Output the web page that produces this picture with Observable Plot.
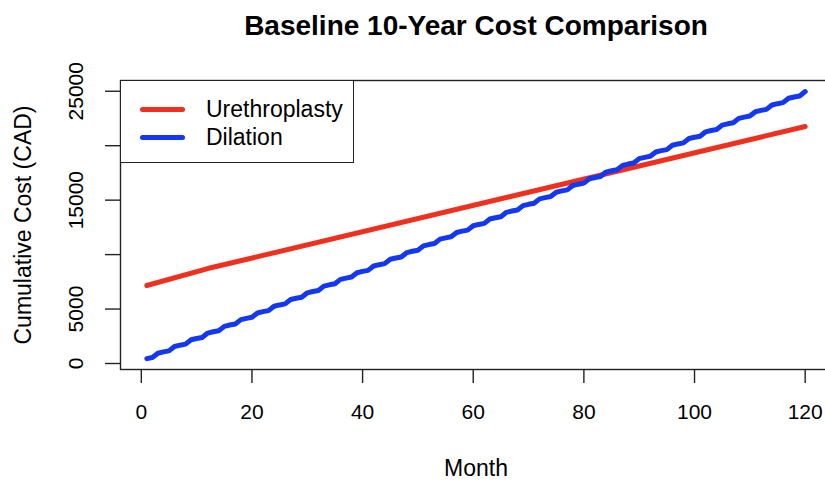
<!DOCTYPE html>
<html>
<head>
<meta charset="utf-8">
<script src="https://cdn.jsdelivr.net/npm/d3@7"></script>
<script src="https://cdn.jsdelivr.net/npm/@observablehq/plot@0.6"></script>
<style>
  html, body { margin: 0; padding: 0; background: #fff; }
  #wrap { position: relative; width: 825px; height: 482px; font-family: "Liberation Sans", Arial, sans-serif; }
  #legend { position: absolute; left: 120px; top: 80px; width: 234px; height: 83px; border: 1.4px solid #222; background: #fff; box-sizing: border-box; }
  .item { position: absolute; left: 0; height: 28px; width: 100%; }
  .swatch { position: absolute; left: 19px; width: 45px; height: 5px; border-radius: 3px; top: 11.5px; }
  .lab { position: absolute; left: 85px; top: 0; font-size: 23px; line-height: 28px; color: #000; }
</style>
</head>
<body>
<div id="wrap"></div>
<script>
const title = "Baseline 10-Year Cost Comparison";
const xTitle = "Month";
const yTitle = "Cumulative Cost (CAD)";
const seriesNames = ["Urethroplasty", "Dilation"];
const seriesColors = ["#f0301e", "#1438f2"];

const xTicks = [0, 20, 40, 60, 80, 100, 120];
const yTicks = [0, 5000, 10000, 15000, 20000, 25000];
const yTickLabels = [0, 5000, 15000, 25000];

const urethroMonths = [1, 12, 120];
const urethroCost = [7160, 8720, 21760];

const dilationMonths = d3.range(1, 121);
const dilationCost = [
  450, 546,
  946, 1066, 1162, 1562, 1682, 1778, 2178, 2298, 2394,
  2794, 2914, 3010, 3410, 3530, 3626, 4026, 4146, 4242,
  4642, 4762, 4858, 5258, 5378, 5474, 5874, 5994, 6090,
  6490, 6610, 6706, 7106, 7226, 7322, 7722, 7842, 7938,
  8338, 8458, 8554, 8954, 9074, 9170, 9570, 9690, 9786,
  10186, 10306, 10402, 10802, 10922, 11018, 11418, 11538, 11634,
  12034, 12154, 12250, 12650, 12770, 12866, 13266, 13386, 13482,
  13882, 14002, 14098, 14498, 14618, 14714, 15114, 15234, 15330,
  15730, 15850, 15946, 16346, 16466, 16562, 16962, 17082, 17178,
  17578, 17698, 17794, 18194, 18314, 18410, 18810, 18930, 19026,
  19426, 19546, 19642, 20042, 20162, 20258, 20658, 20778, 20874,
  21274, 21394, 21490, 21890, 22010, 22106, 22506, 22626, 22722,
  23122, 23242, 23338, 23738, 23858, 23954, 24354, 24474, 24570,
  24970
];

const urethroData = urethroMonths.map((m, i) => ({month: m, cost: urethroCost[i]}));
const dilationData = dilationMonths.map((m, i) => ({month: m, cost: dilationCost[i]}));

const font = "Liberation Sans, Arial, sans-serif";

const chart = Plot.plot({
  width: 825,
  height: 482,
  marginLeft: 120,
  marginRight: -6,
  marginTop: 80,
  marginBottom: 113,
  style: {fontFamily: font, fontSize: "21px", color: "#000", background: "#fff"},
  x: {domain: [-3.76, 124.76]},
  y: {domain: [-551, 25987]},
  marks: [
    Plot.frame({stroke: "#222", strokeWidth: 1.4}),
    Plot.axisX({ticks: xTicks, tickSize: 14, tickPadding: 21, fontSize: 21, stroke: "#222", strokeWidth: 1.4, label: null, tickFormat: d => String(d)}),
    Plot.axisY({ticks: yTicks, tickSize: 15, stroke: "#222", strokeWidth: 1.4, label: null, tickFormat: () => ""}),
    Plot.text(yTickLabels, {y: d => d, text: d => String(d), frameAnchor: "left", dx: -44, rotate: -90, fontSize: 21, textAnchor: "middle", fill: "#000"}),
    Plot.line(urethroData, {x: "month", y: "cost", stroke: seriesColors[0], strokeWidth: 5, strokeLinecap: "round", strokeLinejoin: "round"}),
    Plot.line(dilationData, {x: "month", y: "cost", stroke: seriesColors[1], strokeWidth: 5, strokeLinecap: "round", strokeLinejoin: "round"}),
    Plot.text([title], {text: d => d, frameAnchor: "top", dy: -65, fontSize: 28, fontWeight: "bold", fill: "#000"}),
    Plot.text([xTitle], {text: d => d, frameAnchor: "bottom", dy: 106, fontSize: 23, fill: "#000"}),
    Plot.text([yTitle], {text: d => d, frameAnchor: "left", dx: -97, rotate: -90, fontSize: 23, textAnchor: "middle", fill: "#000"})
  ]
});

const wrap = document.getElementById("wrap");
wrap.appendChild(chart);

const legend = document.createElement("div");
legend.id = "legend";
seriesNames.forEach((name, i) => {
  const item = document.createElement("div");
  item.className = "item";
  item.style.top = (14 + i * 28) + "px";
  const sw = document.createElement("div");
  sw.className = "swatch";
  sw.style.background = seriesColors[i];
  const lab = document.createElement("div");
  lab.className = "lab";
  lab.textContent = name;
  item.appendChild(sw);
  item.appendChild(lab);
  legend.appendChild(item);
});
wrap.appendChild(legend);
</script>
</body>
</html>
